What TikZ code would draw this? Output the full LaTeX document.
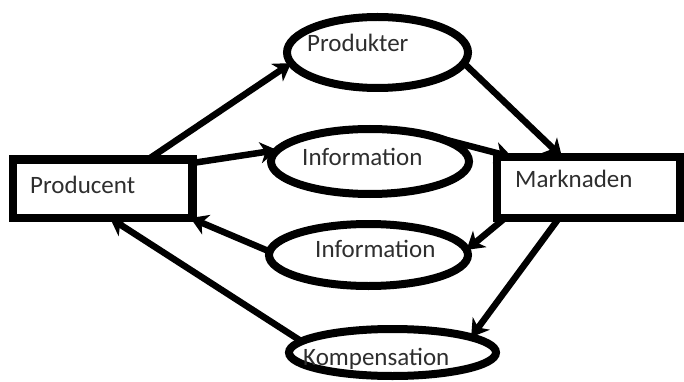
\documentclass[tikz,border=0pt]{standalone}
\usepackage{fontspec}
\setmainfont{Carlito}
\usetikzlibrary{arrows.meta,shapes.geometric}
\begin{document}
\begin{tikzpicture}[x=1pt,y=-1pt,
  boxnode/.style={draw=black,line width=8.5pt,rectangle,inner sep=0pt,outer sep=0pt},
  ellnode/.style={draw=black,line width=8pt,ellipse,inner sep=0pt,outer sep=0pt},
  txt/.style={anchor=base west,inner sep=0pt,text=black!82,font=\fontsize{25}{28}\selectfont},
  conn/.style={line width=6.5pt,-{Stealth[length=17pt,width=21pt,inset=5pt]}}
]
\useasboundingbox (0,0) rectangle (684,382);
% boxes
\node[boxnode,minimum width=179.5pt,minimum height=58.5pt] (pbox) at (102.75,188.75) {};
\node[boxnode,minimum width=183pt,minimum height=61pt] (mbox) at (588.5,187.5) {};
% ellipses
\node[ellnode,minimum width=181pt,minimum height=71pt] (prodk) at (377.5,52.5) {};
\node[ellnode,minimum width=198pt,minimum height=65pt] (info1) at (370,161.5) {};
\node[ellnode,minimum width=199pt,minimum height=62pt] (info2) at (368.5,255) {};
\node[ellnode,minimum width=207pt,minimum height=47pt] (komp) at (392.5,352.5) {};
% texts
\node[txt] (tp) at (30,193) {Producent};
\node[txt] (tm) at (515,187) {Marknaden};
\node[txt] (tprodk) at (307,52) {Produkter};
\node[txt] (tinfo1) at (302,165) {Information};
\node[txt] (tinfo2) at (315,257) {Information};
\node[txt] (tkomp) at (303,365) {Kompensation};
% connectors
\draw[conn] ([xshift=135pt]pbox.north west) -- (prodk.187);
\draw[conn] ([yshift=-3.5pt]pbox.north east) -- (info1.173);
\draw[conn] (info1.23) -- ([xshift=15pt]mbox.north west);
\draw[conn] (prodk.353) -- ([xshift=65pt]mbox.north west);
\draw[conn] ([xshift=8pt]mbox.south west) -- (info2.3);
\draw[conn] ([xshift=62pt]mbox.south west) -- (komp.11);
\draw[conn] (info2.178) -- ([xshift=-2pt]pbox.south east);
\draw[conn] (komp.173) -- ([xshift=97pt]pbox.south west);
\end{tikzpicture}
\end{document}
